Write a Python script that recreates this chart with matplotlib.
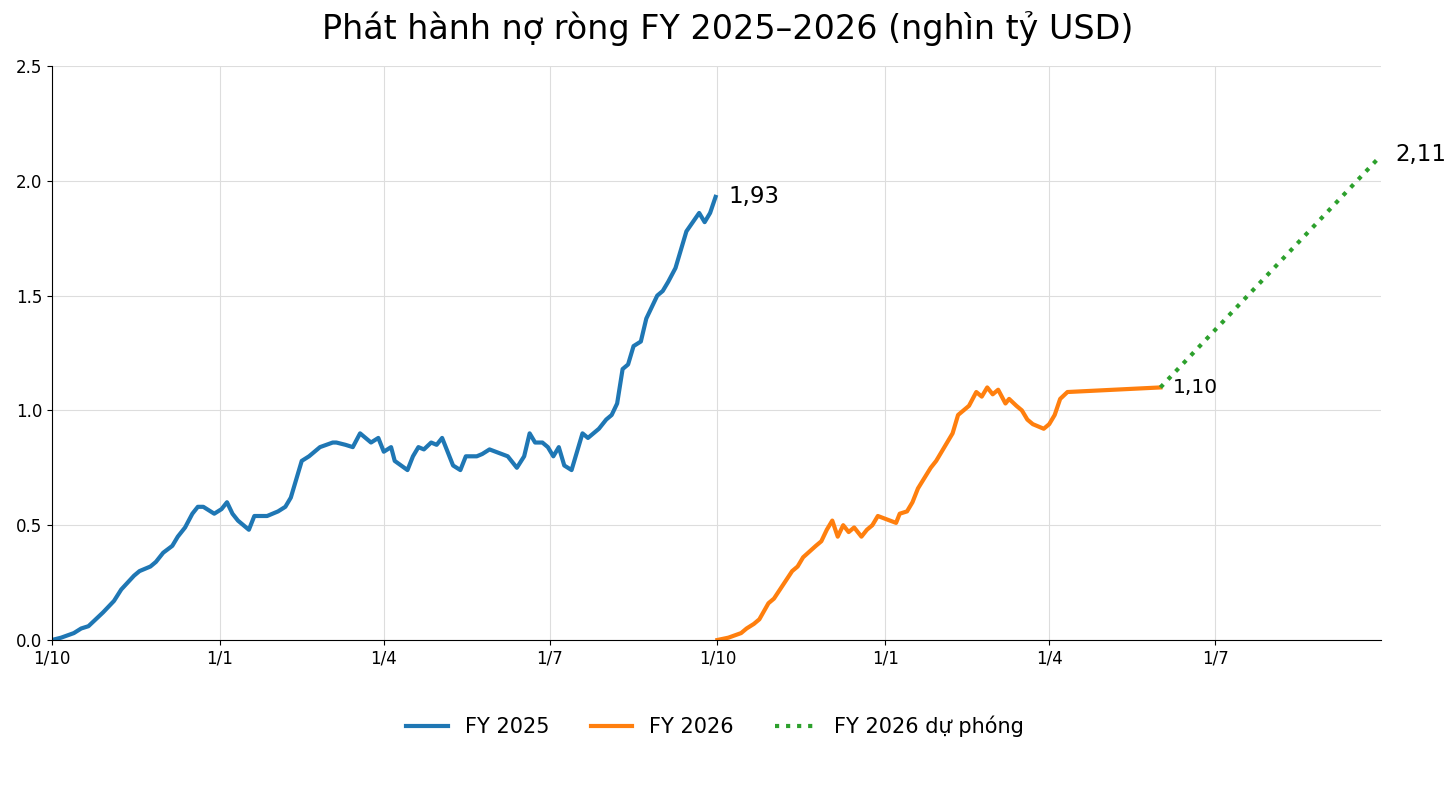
import numpy as np
import pandas as pd
import matplotlib
matplotlib.use("Agg")
import matplotlib.pyplot as plt

# ngày tính từ đầu năm tài khoá (1/10)
fy25_days = [0, 5, 12, 16, 20, 28, 34, 38, 45, 48, 54, 57, 61, 66, 69, 73, 77, 80, 83, 87,
             89, 93, 96, 99, 102, 108, 111, 118, 124, 128, 131, 137, 141, 147, 154, 156, 161, 165, 169, 175,
             179, 182, 186, 188, 195, 198, 201, 204, 208, 211, 214, 220, 224, 227, 233, 236, 240, 250, 252, 255,
             259, 262, 265, 269, 272, 275, 278, 281, 285, 291, 294, 300, 304, 307, 310, 313, 316, 319, 323, 326,
             332, 335, 338, 342, 348, 355, 358, 361, 364]
fy25_vals = [0.00, 0.01, 0.03, 0.05, 0.06, 0.12, 0.17, 0.22, 0.28, 0.30, 0.32, 0.34, 0.38, 0.41, 0.45, 0.49, 0.55, 0.58, 0.58, 0.56,
             0.55, 0.57, 0.60, 0.55, 0.52, 0.48, 0.54, 0.54, 0.56, 0.58, 0.62, 0.78, 0.80, 0.84, 0.86, 0.86, 0.85, 0.84, 0.90, 0.86,
             0.88, 0.82, 0.84, 0.78, 0.74, 0.80, 0.84, 0.83, 0.86, 0.85, 0.88, 0.76, 0.74, 0.80, 0.80, 0.81, 0.83, 0.80, 0.78, 0.75,
             0.80, 0.90, 0.86, 0.86, 0.84, 0.80, 0.84, 0.76, 0.74, 0.90, 0.88, 0.92, 0.96, 0.98, 1.03, 1.18, 1.20, 1.28, 1.30, 1.40,
             1.50, 1.52, 1.56, 1.62, 1.78, 1.86, 1.82, 1.86, 1.93]

fy26_days = [0, 6, 13, 16, 20, 23, 28, 31, 41, 44, 47, 54, 57, 60, 63, 66, 69, 72, 75, 79,
             82, 85, 88, 98, 100, 104, 107, 110, 117, 120, 129, 132, 138, 142, 145, 148, 151, 154, 158, 160,
             164, 167, 170, 173, 179, 182, 185, 188, 192, 243]
fy26_vals = [0.00, 0.01, 0.03, 0.05, 0.07, 0.09, 0.16, 0.18, 0.30, 0.32, 0.36, 0.41, 0.43, 0.48, 0.52, 0.45, 0.50, 0.47, 0.49, 0.45,
             0.48, 0.50, 0.54, 0.51, 0.55, 0.56, 0.60, 0.66, 0.75, 0.78, 0.90, 0.98, 1.02, 1.08, 1.06, 1.10, 1.07, 1.09, 1.03, 1.05,
             1.02, 1.00, 0.96, 0.94, 0.92, 0.94, 0.98, 1.05, 1.08, 1.10]

proj_days = [243, 364]
proj_vals = [1.10, 2.11]

tick_dates = ["2024-10-01", "2025-01-01", "2025-04-01", "2025-07-01",
              "2025-10-01", "2026-01-01", "2026-04-01", "2026-07-01"]
tick_labels = ["1/10", "1/1", "1/4", "1/7", "1/10", "1/1", "1/4", "1/7"]

fy25_start = pd.Timestamp("2024-10-01")
fy26_start = pd.Timestamp("2025-10-01")

x25 = fy25_start + pd.to_timedelta(fy25_days, unit="D")
x26 = fy26_start + pd.to_timedelta(fy26_days, unit="D")
xp = fy26_start + pd.to_timedelta(proj_days, unit="D")

fig = plt.figure(figsize=(14.56, 8.05), dpi=100)
ax = fig.add_axes([0.0357, 0.205, 0.9128, 0.713])

ax.plot(x25, fy25_vals, color="#1f77b4", lw=3, label="FY 2025")
ax.plot(x26, fy26_vals, color="#ff7f0e", lw=3, label="FY 2026")
ax.plot(xp, proj_vals, color="#2ca02c", lw=3, ls=":", label="FY 2026 dự phóng")

ax.annotate("1,93", (x25[-1], fy25_vals[-1]), xytext=(9, 0), textcoords="offset points",
            fontsize=16.5, va="center", ha="left")
ax.annotate("1,10", (x26[-1], fy26_vals[-1]), xytext=(9, 0), textcoords="offset points",
            fontsize=14.5, va="center", ha="left")
ax.annotate("2,11", (xp[-1], proj_vals[-1]), xytext=(10, 1), textcoords="offset points",
            fontsize=16.5, va="center", ha="left")

ax.set_xlim(pd.Timestamp("2024-10-01"), pd.Timestamp("2026-09-30"))
ax.set_ylim(0, 2.5)
ax.set_xticks(pd.to_datetime(tick_dates))
ax.set_xticklabels(tick_labels)
ax.set_yticks(np.arange(0, 2.51, 0.5))
ax.tick_params(labelsize=12)
ax.grid(True, color="#dddddd", lw=0.8)
ax.set_axisbelow(True)
for s in ["top", "right"]:
    ax.spines[s].set_visible(False)

fig.suptitle("Phát hành nợ ròng FY 2025–2026 (nghìn tỷ USD)", fontsize=24, y=0.965, va="center")
fig.legend(loc="center", bbox_to_anchor=(0.491, 0.098), ncol=3, frameon=False, fontsize=15)

fig.savefig("out.png", dpi=100)
